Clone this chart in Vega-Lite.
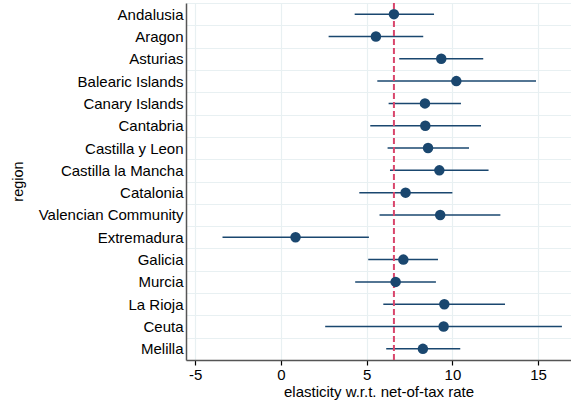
{
  "$schema": "https://vega.github.io/schema/vega-lite/v6.json",
  "autosize": {"type": "none"},
  "padding": {"left": 186, "top": 3, "right": 0, "bottom": 46},
  "width": 385,
  "height": 357,
  "background": "white",
  "data": {
    "values": [
      {"region": "Andalusia", "est": 6.59, "lo": 4.30, "hi": 8.93},
      {"region": "Aragon", "est": 5.54, "lo": 2.78, "hi": 8.30},
      {"region": "Asturias", "est": 9.35, "lo": 6.90, "hi": 11.80},
      {"region": "Balearic Islands", "est": 10.23, "lo": 5.62, "hi": 14.88},
      {"region": "Canary Islands", "est": 8.40, "lo": 6.28, "hi": 10.50},
      {"region": "Cantabria", "est": 8.42, "lo": 5.21, "hi": 11.67},
      {"region": "Castilla y Leon", "est": 8.58, "lo": 6.22, "hi": 10.97},
      {"region": "Castilla la Mancha", "est": 9.24, "lo": 6.36, "hi": 12.11},
      {"region": "Catalonia", "est": 7.27, "lo": 4.57, "hi": 10.00},
      {"region": "Valencian Community", "est": 9.29, "lo": 5.75, "hi": 12.80},
      {"region": "Extremadura", "est": 0.85, "lo": -3.41, "hi": 5.13},
      {"region": "Galicia", "est": 7.14, "lo": 5.09, "hi": 9.16},
      {"region": "Murcia", "est": 6.69, "lo": 4.33, "hi": 9.04},
      {"region": "La Rioja", "est": 9.53, "lo": 5.97, "hi": 13.07},
      {"region": "Ceuta", "est": 9.49, "lo": 2.58, "hi": 16.39},
      {"region": "Melilla", "est": 8.28, "lo": 6.14, "hi": 10.46}
    ]
  },
  "encoding": {
    "y": {
      "field": "region",
      "type": "nominal",
      "sort": null,
      "scale": {"type": "band", "paddingInner": 0, "paddingOuter": 0},
      "axis": {
        "title": "region",
        "titleFont": "Liberation Sans",
        "titleFontSize": 14.5,
        "titleFontWeight": "normal",
        "titleColor": "#000000",
        "titleX": -168,
        "titleY": 178,
        "titleAngle": -90,
        "titleAlign": "center",
        "titleBaseline": "middle",
        "labelFont": "Liberation Sans",
        "labelFontSize": 15,
        "labelColor": "#000000",
        "labelPadding": 3,
        "ticks": false,
        "tickBand": "extent",
        "grid": true,
        "gridColor": "#e8f0f2",
        "gridWidth": 1.2,
        "domainColor": "#555555",
        "domainWidth": 1.5
      }
    }
  },
  "layer": [
    {
      "mark": {"type": "rule", "color": "#1a476f", "strokeWidth": 1.5},
      "encoding": {
        "x": {
          "field": "lo",
          "type": "quantitative",
          "scale": {"domain": [-5.54, 16.92], "nice": false, "zero": false},
          "axis": {
            "title": "elasticity w.r.t. net-of-tax rate",
            "titleFont": "Liberation Sans",
            "titleFontSize": 15,
            "titleFontWeight": "normal",
            "titleColor": "#000000",
            "titlePadding": 2,
            "values": [-5, 0, 5, 10, 15],
            "labelExpr": "toString(datum.value)",
            "labelFont": "Liberation Sans",
            "labelFontSize": 15,
            "labelColor": "#000000",
            "labelPadding": 2,
            "ticks": true,
            "tickSize": 5,
            "tickColor": "#000000",
            "tickWidth": 1.2,
            "grid": true,
            "gridColor": "#e8f0f2",
            "gridWidth": 1.2,
            "domainColor": "#555555",
            "domainWidth": 1.5
          }
        },
        "x2": {"field": "hi"}
      }
    },
    {
      "data": {"values": [{"ref": 6.59}]},
      "mark": {"type": "rule", "color": "#d9466c", "strokeWidth": 2, "strokeDash": [6, 3]},
      "encoding": {
        "x": {"field": "ref", "type": "quantitative"},
        "y": null
      }
    },
    {
      "mark": {"type": "circle", "color": "#1a476f", "opacity": 1, "size": 110},
      "encoding": {
        "x": {"field": "est", "type": "quantitative"}
      }
    }
  ],
  "config": {
    "view": {"stroke": null}
  }
}
